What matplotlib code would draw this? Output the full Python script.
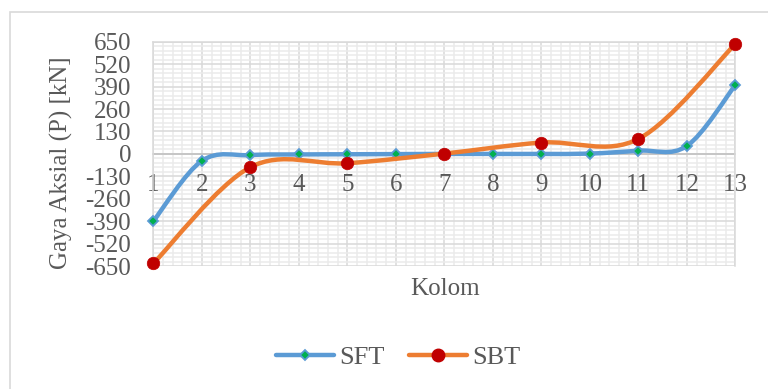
import numpy as np
import matplotlib
matplotlib.use('Agg')
import matplotlib.pyplot as plt
from matplotlib.path import Path
from matplotlib.patches import PathPatch, Rectangle
from matplotlib.lines import Line2D
from matplotlib.ticker import MultipleLocator, FixedLocator, FixedFormatter, NullFormatter
from matplotlib.transforms import ScaledTranslation

plt.rcParams['font.family'] = ['Liberation Serif', 'DejaVu Serif']

# gaya aksial per kolom
kolom_sft = [1, 2, 3, 4, 5, 6, 7, 8, 9, 10, 11, 12, 13]
sft = [-390, -40, -7, -3, -2, -1, 0, 0, 0, 2, 19, 46, 400]

kolom_sbt = [1, 3, 5, 7, 9, 11, 13]
sbt = [-635, -77, -54, 2, 66, 87, 638]

y_ticks = [650, 520, 390, 260, 130, 0, -130, -260, -390, -520, -650]
y_labels = ['650', '520', '390', '260', '130', '0', '-130', '-260', '-390', '-520', '-650']
x_labels = [str(k) for k in kolom_sft]

grey = '#595959'
blue = '#5b9bd5'
orange = '#ed7d31'


def smooth_path(xs, ys):
    # kurva halus bezier seperti "smoothed line" di Excel
    p = np.column_stack([xs, ys]).astype(float)
    n = len(p)
    verts = [p[0]]
    codes = [Path.MOVETO]
    for i in range(n - 1):
        prev = p[i - 1] if i > 0 else p[i]
        nxt = p[i + 2] if i + 2 < n else p[i + 1]
        c1 = p[i] + (p[i + 1] - prev) / 6
        c2 = p[i + 1] - (nxt - p[i]) / 6
        verts += [c1, c2, p[i + 1]]
        codes += [Path.CURVE4] * 3
    return Path(verts, codes)


fig = plt.figure(figsize=(7.68, 3.89), dpi=100)
fig.patches.append(Rectangle((10 / 768, -0.1), 1.2, 1.1 - 12 / 389, transform=fig.transFigure,
                             fill=False, ec='#d9d9d9', lw=1.2))

ax = fig.add_axes([0.1996, 0.316, 0.758, 0.5766])
ax.set_xlim(1, 13)
ax.set_ylim(-650, 650)

# grid
ax.xaxis.set_minor_locator(MultipleLocator(0.2))
ax.yaxis.set_minor_locator(MultipleLocator(26))
ax.grid(which='minor', color='#ebebeb', lw=1.1)
ax.grid(which='major', color='#d9d9d9', lw=1.1)
ax.set_axisbelow(True)
ax.tick_params(which='both', length=0)

ax.yaxis.set_major_locator(FixedLocator(y_ticks))
ax.yaxis.set_major_formatter(FixedFormatter(y_labels))
ax.xaxis.set_major_locator(FixedLocator(kolom_sft))
ax.xaxis.set_major_formatter(NullFormatter())
ax.tick_params(axis='y', labelsize=18, labelcolor=grey, pad=16)

for s in ax.spines.values():
    s.set_color('#d9d9d9')
    s.set_linewidth(1.1)
ax.spines['bottom'].set_position(('data', 0))
ax.spines['bottom'].set_color('#bfbfbf')
ax.spines['bottom'].set_zorder(1)

# label kolom di bawah garis nol, di atas grid
off = ax.transData + ScaledTranslation(0, -0.205, fig.dpi_scale_trans)
for k, lab in zip(kolom_sft, x_labels):
    ax.text(k, 0, lab, transform=off, ha='center', va='top', fontsize=18, color=grey,
            zorder=2, clip_on=False)

# garis halus
ax.add_patch(PathPatch(smooth_path(kolom_sft, sft), fill=False, ec=blue, lw=3.2,
                       capstyle='round', joinstyle='round', zorder=3, clip_on=False))
ax.plot(kolom_sft, sft, ls='none', marker='D', ms=5.5, mfc='#00b050', mec=blue, mew=1.3,
        zorder=4, clip_on=False)

ax.add_patch(PathPatch(smooth_path(kolom_sbt, sbt), fill=False, ec=orange, lw=3.2,
                       capstyle='round', joinstyle='round', zorder=5, clip_on=False))
ax.plot(kolom_sbt, sbt, ls='none', marker='o', ms=9, mfc='#c00000', mec='#c00000', mew=0.5,
        zorder=6, clip_on=False)

fig.text(61 / 768, 1 - 163 / 389, 'Gaya Aksial (P) [kN]', rotation=90, ha='center', va='center',
         fontsize=18, color=grey)
fig.text(445 / 768, 1 - 295 / 389, 'Kolom', ha='center', va='baseline', fontsize=18, color=grey)

handles = [
    Line2D([], [], color=blue, lw=3.2, marker='D', ms=5.5, mfc='#00b050', mec=blue, mew=1.3,
           solid_capstyle='round'),
    Line2D([], [], color=orange, lw=3.2, marker='o', ms=9, mfc='#c00000', mec='#c00000',
           solid_capstyle='round'),
]
fig.legend(handles, ['SFT', 'SBT'], loc='center', bbox_to_anchor=(398 / 768, 1 - 357 / 389),
           ncol=2, frameon=False, fontsize=19, labelcolor=grey, handlelength=2.2,
           handletextpad=0.2, columnspacing=0.9)

fig.savefig('out.png', dpi=100)
plt.close(fig)
